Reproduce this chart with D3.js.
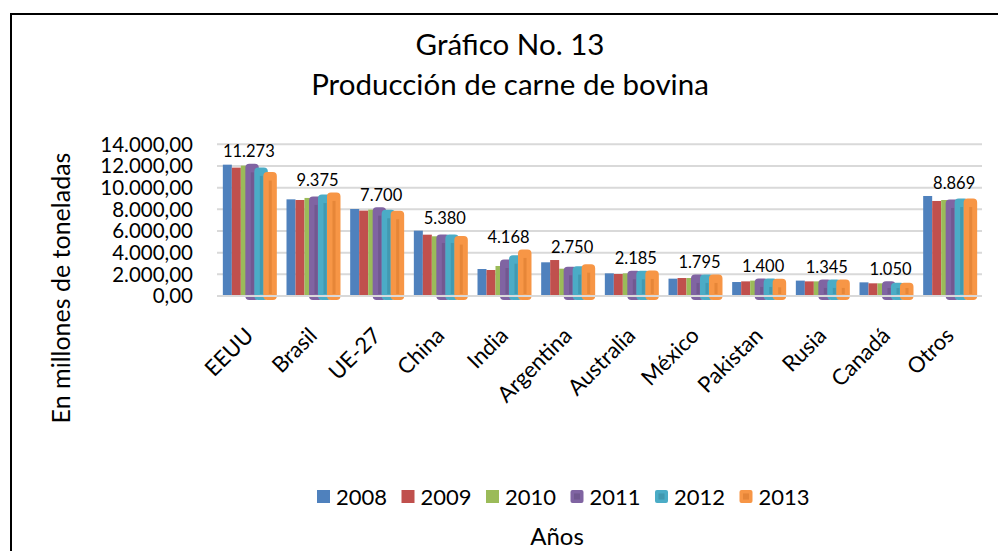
<!DOCTYPE html>
<html>
<head>
<meta charset="utf-8">
<script src="https://cdn.jsdelivr.net/npm/d3@7"></script>
<style>
  body { margin: 0; background: #fff; }
  text { font-family: Lato, "Open Sans", sans-serif; fill: #000; }
</style>
</head>
<body>
<svg id="chart" width="998" height="551"></svg>
<script>
// datos (miles de toneladas)
var categories = ["EEUU", "Brasil", "UE-27", "China", "India", "Argentina", "Australia", "México", "Pakistan", "Rusia", "Canadá", "Otros"];
var years = ["2008", "2009", "2010", "2011", "2012", "2013"];
var v2008 = [12120, 8920, 8030, 6030, 2490, 3110, 2090, 1600, 1290, 1420, 1260, 9230];
var v2009 = [11850, 8860, 7880, 5660, 2400, 3320, 2030, 1660, 1350, 1350, 1170, 8770];
var v2010 = [12030, 9050, 7970, 5510, 2770, 2520, 2090, 1660, 1420, 1350, 1170, 8860];
var v2011 = [12150, 9140, 8150, 5630, 3320, 2650, 2280, 1940, 1570, 1480, 1320, 8860];
var v2012 = [11820, 9320, 7910, 5630, 3720, 2710, 2280, 1940, 1570, 1480, 1170, 8950];
var v2013 = [11390, 9510, 7820, 5480, 4250, 2890, 2310, 1940, 1540, 1480, 1170, 8950];
var groupLabels = [11273, 9375, 7700, 5380, 4168, 2750, 2185, 1795, 1400, 1345, 1050, 8869];
var yTicks = [0, 2000, 4000, 6000, 8000, 10000, 12000, 14000];

var colors = ["#4F81BD", "#C0504D", "#9BBB59", "#8064A2", "#4BACC6", "#F79646"];
var darker = ["#3f6797", "#9a403e", "#7c9647", "#664f82", "#3a8aa0", "#d97a2e"];
var seriesValues = [v2008, v2009, v2010, v2011, v2012, v2013];

var locale = d3.formatLocale({decimal: ",", thousands: ".", grouping: [3], currency: ["", ""]});
var fmtTick = locale.format(",.2f");
var fmtLabel = locale.format(",.0f");

var svg = d3.select("#chart");

svg.append("rect")
    .attr("x", 11).attr("y", 14)
    .attr("width", 1000).attr("height", 600)
    .attr("fill", "#fff")
    .attr("stroke", "#000")
    .attr("stroke-width", 2);

var plotLeft = 218, plotRight = 982, plotTop = 144.3, plotBase = 296;

var x = d3.scaleBand()
    .domain(categories)
    .range([plotLeft, plotRight])
    .paddingInner(0.152)
    .paddingOuter(0.076);

var xs = d3.scaleBand()
    .domain(years)
    .range([0, x.bandwidth()]);

var y = d3.scaleLinear()
    .domain([0, 14000])
    .range([plotBase, plotTop]);

// grid
svg.append("g").selectAll("line")
    .data(yTicks.slice(1))
    .enter().append("line")
    .attr("x1", plotLeft - 1).attr("x2", plotRight)
    .attr("y1", function(d) { return y(d); })
    .attr("y2", function(d) { return y(d); })
    .attr("stroke", "#d9d9d9")
    .attr("stroke-width", 2);

// y ticks
svg.append("g").selectAll("text")
    .data(yTicks)
    .enter().append("text")
    .attr("x", 193)
    .attr("y", function(d) { return y(d); })
    .attr("dy", "0.36em")
    .attr("text-anchor", "end")
    .style("font-size", "20.5px")
    .text(function(d) { return fmtTick(d); });

// bars
var table = [];
categories.forEach(function(c, i) {
    years.forEach(function(yr, j) {
        table.push({cat: c, year: yr, s: j, value: seriesValues[j][i]});
    });
});

var bars = svg.append("g");
years.forEach(function(yr, j) {
    var rows = table.filter(function(d) { return d.s == j; });
    if (j < 3) {
        bars.selectAll("rect.s" + j)
            .data(rows)
            .enter().append("rect")
            .attr("class", "s" + j)
            .attr("x", function(d) { return x(d.cat) + xs(d.year); })
            .attr("width", xs.bandwidth())
            .attr("y", function(d) { return y(d.value); })
            .attr("height", function(d) { return plotBase - y(d.value); })
            .attr("fill", colors[j]);
    } else {
        // 2011-2013: barras redondeadas con sombra interior
        var g = bars.append("g");
        g.selectAll("rect.body")
            .data(rows)
            .enter().append("rect")
            .attr("x", function(d) { return x(d.cat) + xs(d.year) - 3.5; })
            .attr("width", xs.bandwidth() + 2.5)
            .attr("y", function(d) { return y(d.value) + 0.5; })
            .attr("height", function(d) { return plotBase - y(d.value) + 2.5; })
            .attr("rx", 3)
            .attr("fill", colors[j])
            .attr("stroke", colors[j])
            .attr("stroke-width", 2);
        g.selectAll("rect.stripe")
            .data(rows)
            .enter().append("rect")
            .attr("x", function(d) { return x(d.cat) + xs(d.year) + 1; })
            .attr("width", 3)
            .attr("y", function(d) { return Math.min(y(d.value) + 8, plotBase - 8); })
            .attr("height", function(d) { return plotBase - Math.min(y(d.value) + 8, plotBase - 8) - 2; })
            .attr("fill", darker[j])
            .attr("opacity", 0.55);
    }
});

// baseline
svg.append("line")
    .attr("x1", plotLeft - 1).attr("x2", plotRight)
    .attr("y1", y(0)).attr("y2", y(0))
    .attr("stroke", "#d9d9d9")
    .attr("stroke-width", 2);

// group labels
svg.append("g").selectAll("text")
    .data(categories)
    .enter().append("text")
    .attr("x", function(d, i) { return x(d) + x.bandwidth() / 2 + (i == 0 ? -1 : 4); })
    .attr("y", function(d, i) {
        var m = d3.max(seriesValues, function(s) { return s[i]; });
        return y(m) - 13;
    })
    .attr("dy", "0.36em")
    .attr("text-anchor", "middle")
    .style("font-size", "16.5px")
    .text(function(d, i) { return fmtLabel(groupLabels[i]); });

// category labels
svg.append("g").selectAll("text")
    .data(categories)
    .enter().append("text")
    .attr("transform", function(d) {
        return "translate(" + (x(d) + x.bandwidth() / 2 + 5) + ",337) rotate(-45)";
    })
    .attr("text-anchor", "end")
    .style("font-size", "22px")
    .text(function(d) { return d; });

// titles
svg.append("text")
    .attr("x", 510).attr("y", 55)
    .attr("text-anchor", "middle")
    .style("font-size", "29.5px")
    .text("Gráfico No. 13");
svg.append("text")
    .attr("x", 510).attr("y", 95)
    .attr("text-anchor", "middle")
    .style("font-size", "29.5px")
    .text("Producción de carne de bovina");

svg.append("text")
    .attr("transform", "translate(70,288) rotate(-90)")
    .attr("text-anchor", "middle")
    .style("font-size", "25px")
    .text("En millones de toneladas");

svg.append("text")
    .attr("x", 557).attr("y", 545)
    .attr("text-anchor", "middle")
    .style("font-size", "24px")
    .text("Años");

// legend
var legend = svg.append("g").selectAll("g")
    .data(years)
    .enter().append("g")
    .attr("transform", function(d, i) { return "translate(" + (317 + i * 84.5) + ",497)"; });

legend.append("rect")
    .attr("x", 0).attr("y", -7)
    .attr("width", 13).attr("height", 13)
    .attr("rx", function(d, i) { return i < 3 ? 0 : 2; })
    .attr("fill", function(d, i) { return colors[i]; });
legend.filter(function(d, i) { return i >= 3; })
    .append("rect")
    .attr("x", 3.5).attr("y", -3.5)
    .attr("width", 6).attr("height", 6)
    .attr("fill", function(d) { return darker[years.indexOf(d)]; })
    .attr("opacity", 0.6);
legend.append("text")
    .attr("x", 19).attr("y", 0)
    .attr("dy", "0.36em")
    .style("font-size", "22px")
    .text(function(d) { return d; });
</script>
</body>
</html>
